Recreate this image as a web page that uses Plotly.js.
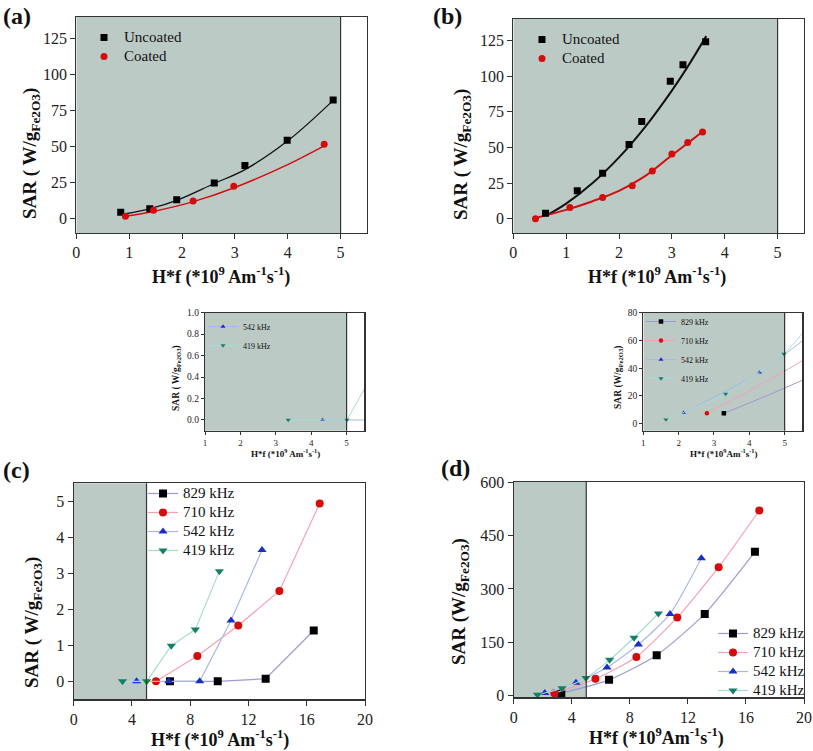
<!DOCTYPE html>
<html>
<head>
<meta charset="utf-8">
<script src="https://cdn.plot.ly/plotly-3.0.1.min.js"></script>
<style>html,body{margin:0;padding:0;background:#fff;}#chart{width:813px;height:751px;}</style>
</head>
<body>
<div id="chart"></div>
<script>
// ---------- Data: panel (a) ----------
const aUncoatedX = [0.84, 1.39, 1.90, 2.61, 3.19, 3.99, 4.86];
const aUncoatedY = [4.4, 6.9, 13.1, 24.7, 36.9, 54.4, 82.3];
const aCoatedX = [0.93, 1.46, 2.21, 2.98, 4.69];
const aCoatedY = [1.6, 5.8, 12.2, 22.4, 51.7];
const aUncoatedFitX = [0.9, 1.4, 1.9, 2.6, 3.2, 4.0, 4.9];
const aUncoatedFitY = [3.2, 7.0, 12.7, 24.2, 34.2, 54.0, 83.5];
const aCoatedFitX = [0.93, 1.46, 2.2, 3.0, 4.0, 4.69];
const aCoatedFitY = [1.6, 5.0, 11.6, 21.6, 37.5, 50.5];

// ---------- Data: panel (b) ----------
const bUncoatedX = [0.61, 1.21, 1.69, 2.19, 2.43, 2.97, 3.21, 3.64];
const bUncoatedY = [3.9, 19.6, 31.9, 52.0, 68.2, 96.3, 107.9, 124.1];
const bCoatedX = [0.42, 1.07, 1.69, 2.25, 2.63, 3.00, 3.30, 3.58];
const bCoatedY = [0.0, 7.9, 14.8, 23.1, 33.5, 45.3, 53.4, 60.8];
const bUncoatedFitX = [0.63, 1.0, 1.5, 2.0, 2.5, 3.0, 3.3, 3.65];
const bUncoatedFitY = [2.3, 10.6, 25.0, 43.0, 64.6, 89.8, 106.6, 128.0];
const bCoatedFitX = [0.42, 1.0, 1.5, 2.0, 2.5, 3.0, 3.3, 3.58];
const bCoatedFitY = [0.5, 6.2, 12.3, 19.5, 30.0, 44.5, 53.0, 61.0];

// ---------- Data: panel (c) (also left inset) ----------
const c829X = [6.61, 9.89, 13.18, 16.48];
const c829Y = [0, 0, 0.07, 1.41];
const c710X = [5.65, 8.49, 11.30, 14.12, 16.89];
const c710Y = [0, 0.70, 1.55, 2.51, 4.94];
const c542X = [4.32, 6.52, 8.65, 10.80, 12.93];
const c542Y = [0, 0, 0, 1.69, 3.65];
const c419X = [3.35, 5.01, 6.70, 8.35, 10.00];
const c419Y = [0, 0, 0.99, 1.44, 3.06];

// ---------- Data: panel (d) (also right inset) ----------
const d829X = [3.28, 6.57, 9.85, 13.16, 16.62];
const d829Y = [7.5, 44.9, 114, 230, 404];
const d710X = [2.80, 5.63, 8.45, 11.27, 14.12, 16.92];
const d710Y = [7.5, 47.7, 109, 220, 361, 520];
const d542X = [2.14, 4.29, 6.43, 8.59, 10.77, 12.93];
const d542Y = [8.0, 37.0, 79.4, 144, 230, 386];
const d419X = [1.64, 3.33, 4.98, 6.61, 8.29, 9.97];
const d419Y = [3.0, 21.5, 50.3, 101, 163, 231];

// ---------- Tick values ----------
const abYTicks = [0, 25, 50, 75, 100, 125];
const abXTicks = [0, 1, 2, 3, 4, 5];
const insetXTicks = [1, 2, 3, 4, 5];
const insetLYTicks = [0.0, 0.2, 0.4, 0.6, 0.8, 1.0];
const insetRYTicks = [0, 20, 40, 60, 80];
const cdXTicks = [0, 4, 8, 12, 16, 20];
const cYTicks = [0, 1, 2, 3, 4, 5];
const dYTicks = [0, 150, 300, 450, 600];
const freqLabels = ['829 kHz', '710 kHz', '542 kHz', '419 kHz'];

// ---------- Styling ----------
const W = 813, H = 751;
const px = v => v / W;
const py = v => 1 - v / H;
const SERIF = '"Liberation Serif", "Times New Roman", Times, serif';
const SHADE = '#bccac6';
const AXC = '#333333';
const lineCol = {'829': '#9c9ccc', '710': '#f3a2b4', '542': '#a9b8e8', '419': '#a6dccf'};
const mkCol = {'829': '#000000', '710': '#d40c0c', '542': '#1b2fc4', '419': '#14806a'};
const mkSym = {'829': 'square', '710': 'circle', '542': 'triangle-up', '419': 'triangle-down'};

function axis(domain, range, tickvals, fs, anchor, fmt) {
  const a = {
    domain: domain, range: range, tickvals: tickvals, anchor: anchor,
    showgrid: false, zeroline: false, showline: true, mirror: true,
    linecolor: AXC, linewidth: 1.2, ticks: 'outside', ticklen: fs > 12 ? 5 : 3,
    tickwidth: 1, tickcolor: AXC, automargin: false, fixedrange: true,
    tickfont: {family: SERIF, size: fs, color: '#222'}
  };
  if (fmt) a.tickformat = fmt;
  return a;
}
// legend label with a larger inline font, keeping the entry spacing compact
const big = (t, s) => '<span style="font-size:' + s + 'px">' + t + '</span>';

const traces = [];
// panel (a)
traces.push({x: aUncoatedFitX, y: aUncoatedFitY, xaxis: 'x', yaxis: 'y', mode: 'lines', line: {color: '#111', width: 1.3, shape: 'spline'}, showlegend: false, hoverinfo: 'skip'});
traces.push({x: aCoatedFitX, y: aCoatedFitY, xaxis: 'x', yaxis: 'y', mode: 'lines', line: {color: '#d01010', width: 1.5, shape: 'spline'}, showlegend: false, hoverinfo: 'skip'});
traces.push({x: aUncoatedX, y: aUncoatedY, xaxis: 'x', yaxis: 'y', mode: 'markers', name: big('Uncoated', 15), marker: {symbol: 'square', size: 7, color: '#000'}, legend: 'legend'});
traces.push({x: aCoatedX, y: aCoatedY, xaxis: 'x', yaxis: 'y', mode: 'markers', name: big('Coated', 15), marker: {symbol: 'circle', size: 7, color: '#d40c0c'}, legend: 'legend'});
// panel (b)
traces.push({x: bUncoatedFitX, y: bUncoatedFitY, xaxis: 'x2', yaxis: 'y2', mode: 'lines', line: {color: '#111', width: 2, shape: 'spline'}, showlegend: false, hoverinfo: 'skip'});
traces.push({x: bCoatedFitX, y: bCoatedFitY, xaxis: 'x2', yaxis: 'y2', mode: 'lines', line: {color: '#d01010', width: 2, shape: 'spline'}, showlegend: false, hoverinfo: 'skip'});
traces.push({x: bUncoatedX, y: bUncoatedY, xaxis: 'x2', yaxis: 'y2', mode: 'markers', name: big('Uncoated', 15), marker: {symbol: 'square', size: 7, color: '#000'}, legend: 'legend2'});
traces.push({x: bCoatedX, y: bCoatedY, xaxis: 'x2', yaxis: 'y2', mode: 'markers', name: big('Coated', 15), marker: {symbol: 'circle', size: 7, color: '#d40c0c'}, legend: 'legend2'});

const cSets = {'829': [c829X, c829Y], '710': [c710X, c710Y], '542': [c542X, c542Y], '419': [c419X, c419Y]};
const dSets = {'829': [d829X, d829Y], '710': [d710X, d710Y], '542': [d542X, d542Y], '419': [d419X, d419Y]};
const keys = ['829', '710', '542', '419'];

// left inset (c data zoomed)
keys.forEach((k, i) => {
  const show = (k === '542' || k === '419');
  traces.push({x: cSets[k][0], y: cSets[k][1], xaxis: 'x3', yaxis: 'y3', mode: 'lines+markers', name: freqLabels[i],
    line: {color: lineCol[k], width: 1}, marker: {symbol: mkSym[k], size: 4.5, color: mkCol[k]},
    showlegend: show, legend: 'legend3', cliponaxis: true});
});
// right inset (d data zoomed)
keys.forEach((k, i) => {
  traces.push({x: dSets[k][0], y: dSets[k][1], xaxis: 'x4', yaxis: 'y4', mode: 'lines+markers', name: freqLabels[i],
    line: {color: lineCol[k], width: 1, shape: 'spline', smoothing: 0.6}, marker: {symbol: mkSym[k], size: 4.5, color: mkCol[k]},
    legend: 'legend4', cliponaxis: true});
});
// panel (c)
keys.forEach((k, i) => {
  traces.push({x: cSets[k][0], y: cSets[k][1], xaxis: 'x5', yaxis: 'y5', mode: 'lines+markers', name: big(freqLabels[i], 15),
    line: {color: lineCol[k], width: 1.2}, marker: {symbol: mkSym[k], size: 8, color: mkCol[k]}, legend: 'legend5'});
});
// panel (d)
keys.forEach((k, i) => {
  traces.push({x: dSets[k][0], y: dSets[k][1], xaxis: 'x6', yaxis: 'y6', mode: 'lines+markers', name: big(freqLabels[i], 15),
    line: {color: lineCol[k], width: 1.2, shape: 'spline', smoothing: 0.6}, marker: {symbol: mkSym[k], size: 8, color: mkCol[k]}, legend: 'legend6'});
});

const dom = {
  a: {x: [px(76.3), px(367)], y: [py(233), py(17)]},
  b: {x: [px(513.3), px(804)], y: [py(233), py(19)]},
  iL: {x: [px(205), px(364.3)], y: [py(430.7), py(312.7)]},
  iR: {x: [px(643.3), px(802.3)], y: [py(430.7), py(312.7)]},
  c: {x: [px(73.7), px(365)], y: [py(699.3), py(483.3)]},
  d: {x: [px(513.7), px(804)], y: [py(697.3), py(482)]}
};
const rng = {
  ax: [0, 5.5], ay: [-10, 140], iLx: [1, 5.5], iLy: [-0.1, 1.0], iRx: [1, 5.5], iRy: [-5, 80],
  cx: [0, 20], cy: [-0.5, 5.5], dx: [0, 20], dy: [-4, 600]
};

const legFont = s => ({family: SERIF, size: s, color: '#111'});
const layout = {
  width: W, height: H, margin: {l: 0, r: 0, t: 0, b: 0},
  paper_bgcolor: '#fff', plot_bgcolor: '#fff', hovermode: false,
  font: {family: SERIF, color: '#111'},
  xaxis: axis(dom.a.x, rng.ax, abXTicks, 16, 'y'),
  yaxis: axis(dom.a.y, rng.ay, abYTicks, 16, 'x'),
  xaxis2: axis(dom.b.x, rng.ax, abXTicks, 16, 'y2'),
  yaxis2: axis(dom.b.y, rng.ay, abYTicks, 16, 'x2'),
  xaxis3: axis(dom.iL.x, rng.iLx, insetXTicks, 9, 'y3'),
  yaxis3: axis(dom.iL.y, rng.iLy, insetLYTicks, 9.5, 'x3', '.1f'),
  xaxis4: axis(dom.iR.x, rng.iRx, insetXTicks, 9, 'y4'),
  yaxis4: axis(dom.iR.y, rng.iRy, insetRYTicks, 9.5, 'x4'),
  xaxis5: axis(dom.c.x, rng.cx, cdXTicks, 16, 'y5'),
  yaxis5: axis(dom.c.y, rng.cy, cYTicks, 16, 'x5'),
  xaxis6: axis(dom.d.x, rng.dx, cdXTicks, 16, 'y6'),
  yaxis6: axis(dom.d.y, rng.dy, dYTicks, 16, 'x6'),
  legend: {x: px(84), y: py(23), xanchor: 'left', yanchor: 'top', bgcolor: 'rgba(0,0,0,0)', font: legFont(11)},
  legend2: {x: px(522), y: py(25), xanchor: 'left', yanchor: 'top', bgcolor: 'rgba(0,0,0,0)', font: legFont(11)},
  legend3: {x: px(203), y: py(312), xanchor: 'left', yanchor: 'top', bgcolor: 'rgba(0,0,0,0)', font: legFont(8)},
  legend4: {x: px(641), y: py(307), xanchor: 'left', yanchor: 'top', bgcolor: 'rgba(0,0,0,0)', font: legFont(8)},
  legend5: {x: px(143), y: py(479), xanchor: 'left', yanchor: 'top', bgcolor: 'rgba(0,0,0,0)', font: legFont(11)},
  legend6: {x: px(713), y: py(619), xanchor: 'left', yanchor: 'top', bgcolor: 'rgba(0,0,0,0)', font: legFont(11)},
  shapes: [],
  annotations: []
};

// shaded regions (x <= 5) and boundary lines
[['x', 'y', rng.ax[0]], ['x2', 'y2', rng.ax[0]], ['x3', 'y3', rng.iLx[0]], ['x4', 'y4', rng.iRx[0]], ['x5', 'y5', rng.cx[0]], ['x6', 'y6', rng.dx[0]]].forEach(([xa, ya, x0]) => {
  layout.shapes.push({type: 'rect', xref: xa, yref: ya + ' domain', x0: x0, x1: 5, y0: 0, y1: 1, fillcolor: SHADE, line: {width: 0}, layer: 'below'});
  layout.shapes.push({type: 'line', xref: xa, yref: ya + ' domain', x0: 5, x1: 5, y0: 0, y1: 1, line: {color: AXC, width: 1.2}, layer: 'above'});
});

function ann(text, x, y, size, angle) {
  layout.annotations.push({text: '<b>' + text + '</b>', x: px(x), y: py(y), xref: 'paper', yref: 'paper',
    xanchor: 'center', yanchor: 'middle', showarrow: false, textangle: angle || 0,
    font: {family: SERIF, size: size, color: '#111'}});
}
// panel labels
ann('(a)', 17, 16, 24);
ann('(b)', 447, 16, 24);
ann('(c)', 16, 470, 24);
ann('(d)', 456, 468, 24);
// axis titles
const sarSp = 'SAR ( W/g<sub>Fe2O3</sub>)';
const sarNo = 'SAR (W/g<sub>Fe2O3</sub>)';
const hfSp = 'H*f (*10<sup>9</sup> Am<sup>-1</sup>s<sup>-1</sup>)';
const hfNo = 'H*f (*10<sup>9</sup>Am<sup>-1</sup>s<sup>-1</sup>)';
ann(sarSp, 31, 154, 19, -90);
ann(hfSp, 221, 276, 18);
ann(sarSp, 462, 154, 19, -90);
ann(hfSp, 657, 276, 18);
ann(sarSp, 176, 378, 9.5, -90);
ann(hfSp, 285, 453, 9);
ann(sarNo, 618, 378, 9.5, -90);
ann(hfNo, 723, 453, 9);
ann(sarSp, 33, 623, 19, -90);
ann(hfSp, 220, 739, 18);
ann(sarNo, 460, 602, 19, -90);
ann(hfNo, 656, 737, 18);

Plotly.newPlot('chart', traces, layout, {displayModeBar: false, staticPlot: true});
</script>
</body>
</html>
